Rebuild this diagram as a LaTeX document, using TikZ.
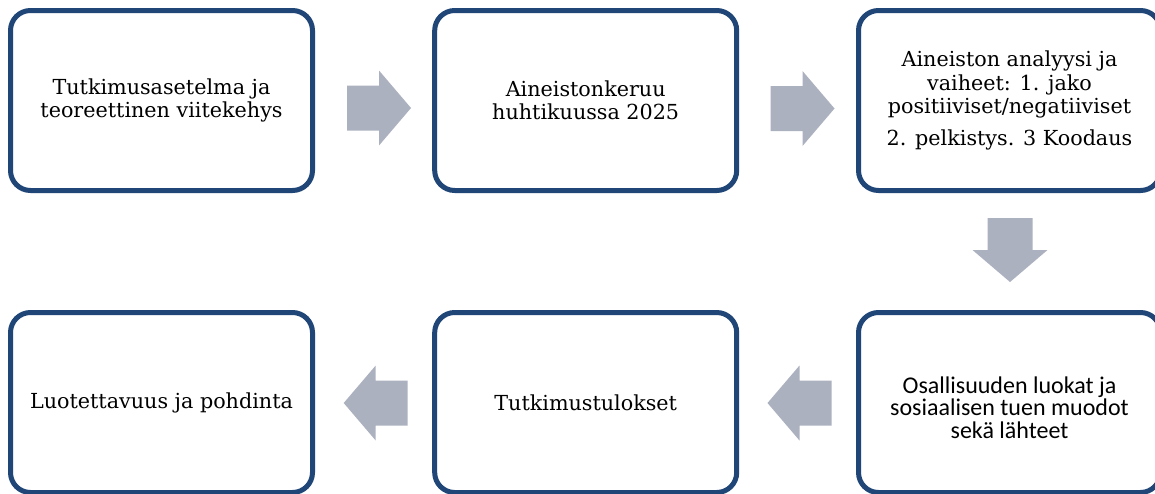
\documentclass[tikz,border=0pt]{standalone}
\usepackage{fontspec}
\setmainfont{DejaVu Serif}
\newfontfamily\calfont{Carlito}
\definecolor{boxblue}{HTML}{1F4677}
\definecolor{arrowfill}{HTML}{ACB1C0}
\tikzset{
  stage/.style={draw=boxblue, line width=5pt, rounded corners=20pt, fill=white,
    minimum width=302pt, minimum height=180pt, inner sep=0pt, align=center,
    font=\fontsize{20.7}{23.5}\selectfont},
  sanstext/.style={align=center, inner sep=0pt, font=\calfont\fontsize{24}{22.5}\selectfont},
  blockarrow/.pic={
    \fill[arrowfill] (-32,-22.5) -- (0,-22.5) -- (0,-37.5) -- (32,0)
      -- (0,37.5) -- (0,22.5) -- (-32,22.5) -- cycle;
  }
}
\begin{document}
\begin{tikzpicture}[x=1pt, y=-1pt]
  \useasboundingbox (0,0) rectangle (1155,493);
  \clip (0,0) rectangle (1155,493);
  \fill[white] (0,0) rectangle (1155,493);

  % top row, left to right
  \node[stage] (s1) at (161.5,100.5) {Tutkimusasetelma ja\\teoreettinen viitekehys};
  \node[stage] (s2) at (585.7,100.5) {Aineistonkeruu\\huhtikuussa 2025};
  \node[stage] (s3) at (1009.5,100.5) {Aineiston analyysi ja\\vaiheet: 1. jako\\positiiviset/negatiiviset\\[8pt]2. pelkistys. 3 Koodaus};

  % bottom row, right to left
  \node[stage] (s4) at (1009.5,402.5) {};
  \node[sanstext] (s4text) at ([yshift=-5pt]s4.center) {Osallisuuden luokat ja\\sosiaalisen tuen muodot\\sekä lähteet};
  \node[stage] (s5) at (585.7,402.5) {Tutkimustulokset};
  \node[stage] (s6) at (161.5,402.5) {Luotettavuus ja pohdinta};

  % block arrows between the stages
  \pic (a1) at (379,108) {blockarrow};
  \pic (a2) at (802.5,108.5) {blockarrow};
  \pic[rotate=-90] (a3) at (1010,250) {blockarrow};
  \pic[rotate=180] (a4) at (799.5,403) {blockarrow};
  \pic[rotate=180] (a5) at (375.7,403) {blockarrow};
\end{tikzpicture}
\end{document}
